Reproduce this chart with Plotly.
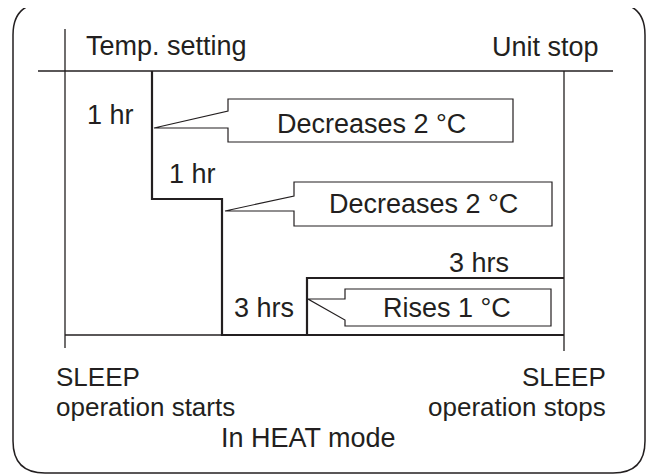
import plotly.graph_objects as go

# ---- diagram content (schematic coordinates in a 654 x 475 canvas) ----
# Temperature-setting step profile (SLEEP operation, HEAT mode)
step_x = [152, 152, 222, 222, 564]
step_y = [71, 199, 199, 335, 335]
rise_x = [307, 307, 564]
rise_y = [335, 278, 278]

# Frame lines: (x0, y0, x1, y1)
frame_lines = [
    (65, 29, 65, 348),     # SLEEP start marker
    (38, 71, 613, 71),     # temp setting line
    (564, 71, 564, 351),   # SLEEP stop marker
    (65, 335, 222, 335),   # base line
]

callout_texts = ["Decreases 2 °C", "Decreases 2 °C", "Rises 1 °C"]
label_texts = ["Temp. setting", "Unit stop", "1 hr", "1 hr", "3 hrs", "3 hrs", "In HEAT mode"]
end_texts = [["SLEEP", "operation starts"], ["SLEEP", "operation stops"]]

INK = "#231f20"
FONT = "Liberation Sans, Arial, sans-serif"
FS = 27
FS_END = 26
OFF = 8  # page body margin of the html page

fig = go.Figure()

for (x0, y0, x1, y1) in frame_lines:
    fig.add_trace(go.Scatter(x=[x0, x1], y=[y0, y1], mode="lines",
                             line=dict(color=INK, width=1.3), hoverinfo="skip"))

fig.add_trace(go.Scatter(x=step_x, y=step_y, mode="lines",
                         line=dict(color=INK, width=2.2), hoverinfo="skip"))
fig.add_trace(go.Scatter(x=rise_x, y=rise_y, mode="lines",
                         line=dict(color=INK, width=2.2), hoverinfo="skip"))

# Rounded outer frame
L, T, R, B, r = 13, 3, 645, 473, 32
frame_path = (f"M {L+r},{T} L {R-r},{T} Q {R},{T} {R},{T+r} "
              f"L {R},{B-r} Q {R},{B} {R-r},{B} "
              f"L {L+r},{B} Q {L},{B} {L},{B-r} "
              f"L {L},{T+r} Q {L},{T} {L+r},{T} Z")
shapes = [dict(type="path", path=frame_path, xref="x", yref="y",
               line=dict(color=INK, width=1.5))]

c1 = "M 228,99 L 513,99 L 513,142 L 228,142 L 228,128 L 154,128 L 228,111 Z"
c2 = "M 294,182 L 552,182 L 552,226 L 294,226 L 294,211 L 225,211 L 294,196 Z"
c3 = "M 345,289 L 551,289 L 551,326 L 345,326 L 345,320 L 308,299 L 345,299 Z"
for p in (c1, c2, c3):
    shapes.append(dict(type="path", path=p, xref="x", yref="y",
                       line=dict(color=INK, width=1.2)))

annotations = []
def lab(text, x, y, anchor, size=FS, align="left"):
    annotations.append(dict(text=text, x=x, y=y, xref="x", yref="y",
                            xanchor=anchor, yanchor="middle", showarrow=False,
                            align=align,
                            font=dict(family=FONT, size=size, color=INK)))

lab(label_texts[0], 84, 46, "left")
lab(label_texts[1], 601, 47, "right")
lab(label_texts[2], 85, 114.5, "left")
lab(label_texts[3], 167, 173.5, "left")
lab(label_texts[4], 232, 307.5, "left")
lab(label_texts[5], 447, 262.5, "left")
lab(label_texts[6], 308, 437.5, "center")
lab(callout_texts[0], 371, 123.5, "center")
lab(callout_texts[1], 423, 203.5, "center")
lab(callout_texts[2], 447, 307.5, "center")

# two-line end labels with tight line spacing (base size sets the line pitch)
def two_line(lines):
    return "<br>".join(f"<span style='font-size:{FS_END}px'>{t}</span>" for t in lines)

lab(two_line(end_texts[0]), 54, 392, "left", size=22.7, align="left")
lab(two_line(end_texts[1]), 608, 392, "right", size=22.7, align="right")

fig.update_layout(
    width=654, height=475, autosize=False,
    margin=dict(l=0, r=0, t=0, b=0),
    paper_bgcolor="white", plot_bgcolor="white",
    showlegend=False,
    xaxis=dict(range=[OFF, 654 + OFF], visible=False, fixedrange=True),
    yaxis=dict(range=[475 + OFF, OFF], visible=False, fixedrange=True),
    shapes=shapes, annotations=annotations,
)

fig.write_html("out.html", config={"displayModeBar": False})
